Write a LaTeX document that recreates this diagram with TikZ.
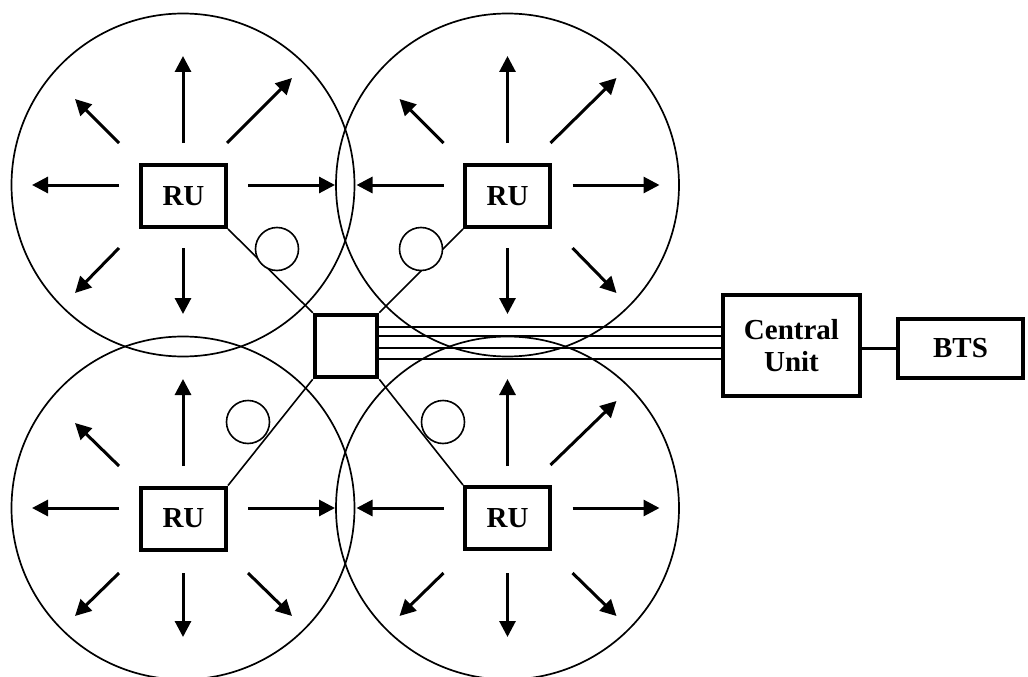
\documentclass[tikz,border=0pt]{standalone}
\usepackage{fontspec}
\setmainfont{Liberation Serif}
\usetikzlibrary{arrows.meta,calc}
\begin{document}
\begin{tikzpicture}[x=1pt,y=-1pt,
  cellc/.style={draw,circle,line width=1.7pt,minimum size=343pt,inner sep=0pt},
  ray/.style={line width=3pt,-{Triangle[length=16pt,width=16pt]}},
  rubox/.style={draw,line width=4pt,minimum width=85pt,minimum height=62pt,inner sep=0pt,
    font=\fontsize{29}{32}\selectfont\bfseries},
  hubbox/.style={draw,fill=white,line width=4.5pt,minimum size=62pt,inner sep=0pt},
  bigbox/.style={draw,line width=3.6pt,inner sep=0pt,align=center,
    font=\fontsize{29}{32}\selectfont\bfseries},
  link/.style={line width=1.6pt},
  smallc/.style={draw,circle,fill=white,line width=1.6pt,minimum size=43pt,inner sep=0pt}
]
\useasboundingbox (0,0) rectangle (1028,677);
\fill[white] (0,0) rectangle (1028,677);

% cells
\node[cellc] (c1) at (183,185) {};
\node[cellc] (c2) at (507.5,185) {};
\node[cellc] (c3) at (183,508) {};
\node[cellc] (c4) at (507.5,508) {};

% RU boxes
\node[rubox] (ru1) at (183.5,196) {RU};
\node[rubox] (ru2) at (507.5,196) {RU};
\node[rubox] (ru3) at (183.5,518.5) {RU};
\node[rubox] (ru4) at (507.5,518) {RU};

% rays: top-left cell
\begin{scope}[shift={(183,185)}]
  \draw[ray] (0,-42) -- (0,-129);
  \draw[ray] (0,63) -- (0,129);
  \draw[ray] (-64,0) -- (-151,0);
  \draw[ray] (65,0) -- (152,0);
  \draw[ray] (-64,-42) -- (-108,-86);
  \draw[ray] (44,-42) -- (109,-107);
  \draw[ray] (-64,63) -- (-108,108);
\end{scope}
% rays: top-right cell
\begin{scope}[shift={(507.5,185)}]
  \draw[ray] (0,-42) -- (0,-129);
  \draw[ray] (0,63) -- (0,129);
  \draw[ray] (-64,0) -- (-151,0);
  \draw[ray] (65,0) -- (152,0);
  \draw[ray] (-64,-42) -- (-108,-86);
  \draw[ray] (43,-42) -- (109,-107);
  \draw[ray] (65,63) -- (109,108);
\end{scope}
% rays: bottom-left cell
\begin{scope}[shift={(183,508)}]
  \draw[ray] (0,-42) -- (0,-129);
  \draw[ray] (0,65) -- (0,129);
  \draw[ray] (-64,0) -- (-151,0);
  \draw[ray] (65,0) -- (152,0);
  \draw[ray] (-64,-42) -- (-108,-85);
  \draw[ray] (-64,65) -- (-108,108);
  \draw[ray] (65,65) -- (109,108);
\end{scope}
% rays: bottom-right cell
\begin{scope}[shift={(507.5,508)}]
  \draw[ray] (0,-42) -- (0,-129);
  \draw[ray] (0,65) -- (0,129);
  \draw[ray] (-64,0) -- (-151,0);
  \draw[ray] (65,0) -- (152,0);
  \draw[ray] (43,-43) -- (109,-107);
  \draw[ray] (-64,65) -- (-108,108);
  \draw[ray] (65,65) -- (109,108);
\end{scope}

% hub
\node[hubbox] (hub) at (346,346) {};
\draw[link] (ru1.south east) -- (hub.north west);
\draw[link] (ru2.south west) -- (hub.north east);
\draw[link] (ru3.north east) -- (hub.south west);
\draw[link] (ru4.north west) -- (hub.south east);

% small circles
\node[smallc] (s1) at (277,249) {};
\node[smallc] (s2) at (421,249) {};
\node[smallc] (s3) at (248,422) {};
\node[smallc] (s4) at (443,422) {};

% central unit and BTS
\node[bigbox,minimum width=137pt,minimum height=101pt] (cu) at (791.5,345.5) {Central\\Unit};
\node[bigbox,minimum width=125pt,minimum height=59pt] (bts) at (960.5,348.5) {BTS};

\foreach \d in {19,10,-2,-13}
  \draw[link] ([yshift=\d pt]hub.east) -- ([yshift=\d pt]hub.east -| cu.west);
\draw[line width=2.8pt] (bts.west -| cu.east) -- (bts.west);
\end{tikzpicture}
\end{document}
